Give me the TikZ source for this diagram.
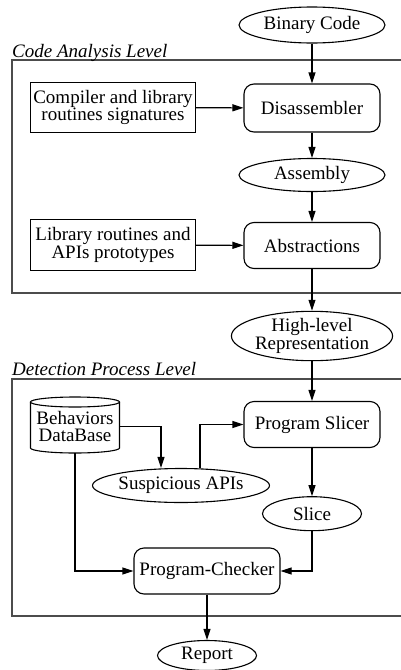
\documentclass[tikz,border=0pt]{standalone}
\usepackage{fontspec}
\setmainfont{Liberation Serif}
\usetikzlibrary{shapes.geometric,arrows.meta}
\begin{document}
\begin{tikzpicture}[x=1pt,y=-1pt,
  every node/.style={font=\fontsize{19}{15.5}\selectfont, inner sep=0pt, align=center},
  oval/.style={ellipse, draw, line width=1.1pt},
  plainbox/.style={rectangle, draw, line width=1.1pt},
  procbox/.style={rectangle, rounded corners=10pt, draw, line width=1.1pt},
  arr/.style={-{Triangle[length=11pt,width=7pt]}, line width=1.1pt},
  frame/.style={draw=black!70, line width=1.3pt},
  levellabel/.style={anchor=base west, font=\fontsize{19}{19}\selectfont\itshape}
]
\useasboundingbox (0,0) rectangle (401,670);

% level frames (open on the right)
\draw[frame] (401,60) -- (12,60) -- (12,293) -- (401,293);
\draw[frame] (401,379) -- (12,379) -- (12,616) -- (401,616);
\node[levellabel] (lvlA) at (12,57) {Code Analysis Level};
\node[levellabel] (lvlB) at (12,375) {Detection Process Level};

% code analysis level
\node[oval, minimum width=146pt, minimum height=36pt] (bin) at (312,25) {Binary Code};
\node[procbox, minimum width=136pt, minimum height=48pt] (disasm) at (312,108) {Disassembler};
\node[plainbox, minimum width=165pt, minimum height=50pt] (comp) at (113,107.5) {Compiler and library\\routines signatures};
\node[oval, minimum width=146pt, minimum height=33pt] (asm) at (312,175) {Assembly};
\node[procbox, minimum width=136pt, minimum height=46pt] (abstr) at (312,245.5) {Abstractions};
\node[plainbox, minimum width=165pt, minimum height=51pt] (lib) at (113,245) {Library routines and\\APIs prototypes};
\node[oval, minimum width=145pt, minimum height=46pt] (hl) at (312,336) {High-level\\Representation};

% detection process level
\node[procbox, minimum width=136pt, minimum height=46pt] (slicer) at (312,424.5) {Program Slicer};
% database cylinder: outline drawn by hand around the text node
\draw[line width=1.1pt] (30.5,402) -- (30.5,448) arc[start angle=180, end angle=0, x radius=44.5, y radius=5] -- (119.5,402);
\draw[line width=1.1pt] (75,402) ellipse[x radius=44.5, y radius=5];
\node[minimum width=89pt, minimum height=53pt, font=\fontsize{19}{17.5}\selectfont] (db) at (75,426.5) {Behaviors\\DataBase};
\node[oval, minimum width=144pt, minimum height=34pt] (susp) at (181,485.5) {Suspicious APIs};
\node[oval, minimum width=99pt, minimum height=34pt] (slice) at (312,513.7) {Slice};
\node[procbox, minimum width=146pt, minimum height=46pt] (checker) at (207,571) {Program-Checker};
\node[oval, minimum width=99pt, minimum height=30pt] (report) at (207,655.5) {Report};

% connectors
\draw[arr] (bin) -- (disasm);
\draw[arr] (comp) -- (disasm);
\draw[arr] (disasm) -- (asm);
\draw[arr] (asm) -- (abstr);
\draw[arr] (lib) -- (abstr);
\draw[arr] (abstr) -- (hl);
\draw[arr] (hl) -- (slicer);
\draw[arr] (db.east) -| ([xshift=-20pt]susp.north);
\draw[arr] ([xshift=19pt]susp.north) |- (slicer.west);
\draw[arr] (slicer) -- (slice);
\draw[arr] (db.south) |- (checker.west);
\draw[arr] (slice.south) |- (checker.east);
\draw[arr] (checker) -- (report);
\end{tikzpicture}
\end{document}
